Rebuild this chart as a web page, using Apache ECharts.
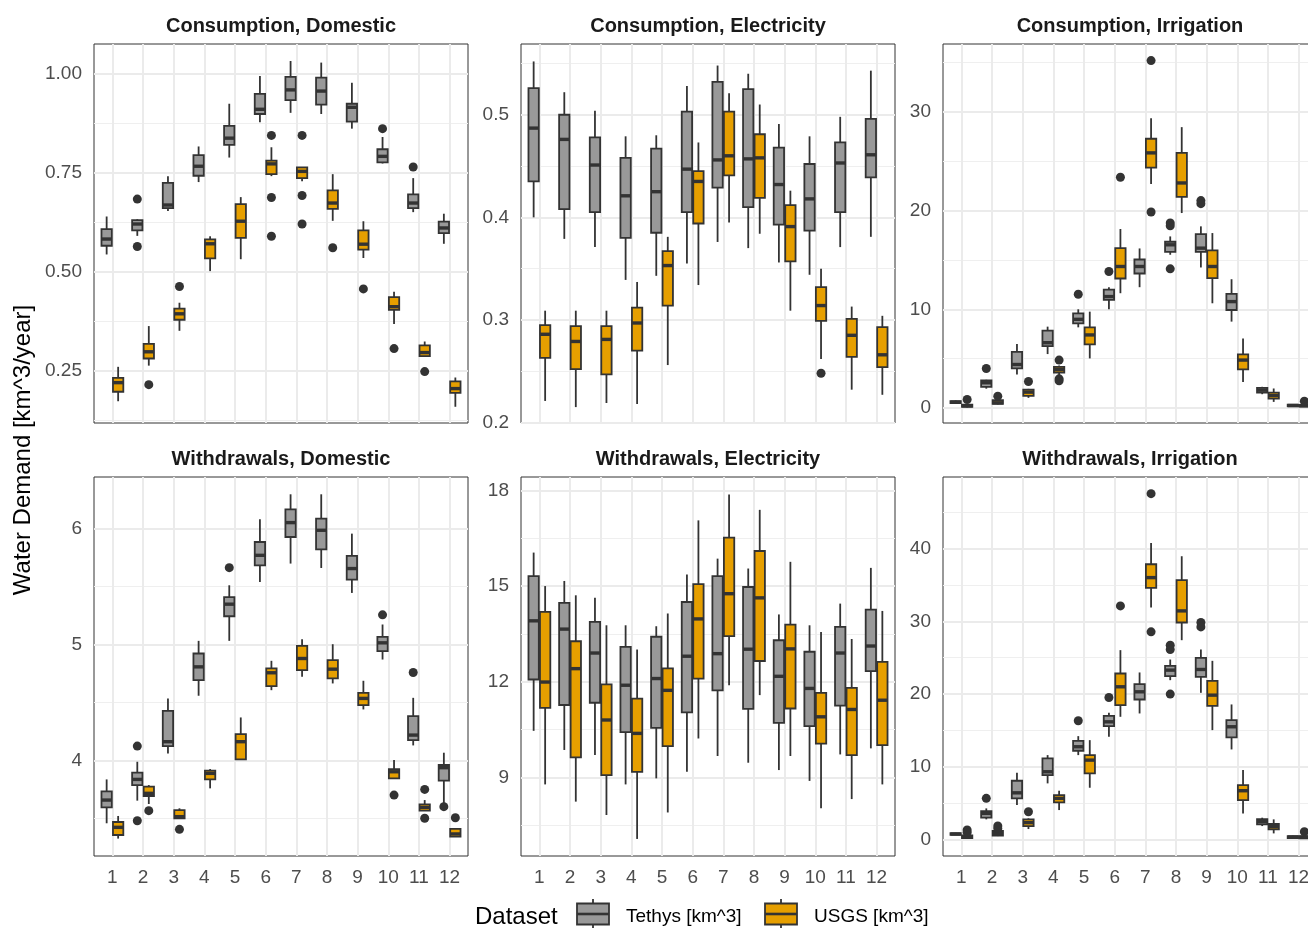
<!DOCTYPE html>
<html>
<head>
<meta charset="utf-8">
<title>Water demand by month</title>
<script src="https://cdn.jsdelivr.net/npm/echarts@6/dist/echarts.min.js"></script>
<style>
  html, body { margin: 0; padding: 0; background: #ffffff; }
  #chart { width: 1308px; height: 928px; }
</style>
</head>
<body>
<div id="chart"></div>
<script>
const months = [1, 2, 3, 4, 5, 6, 7, 8, 9, 10, 11, 12]

// every box: [lower whisker, Q1, median, Q3, upper whisker]
// outliers: [month, value]

// Consumption, Domestic
const consDomTethys = [
  [0.543, 0.565, 0.582, 0.607, 0.639], [0.590, 0.604, 0.620, 0.630, 0.632],
  [0.653, 0.660, 0.668, 0.724, 0.741], [0.726, 0.742, 0.766, 0.794, 0.816],
  [0.788, 0.820, 0.837, 0.868, 0.924], [0.877, 0.898, 0.910, 0.949, 0.994],
  [0.901, 0.933, 0.959, 0.992, 1.032], [0.898, 0.922, 0.956, 0.990, 1.028],
  [0.861, 0.879, 0.915, 0.924, 0.977], [0.773, 0.776, 0.791, 0.809, 0.840],
  [0.650, 0.660, 0.673, 0.695, 0.736], [0.570, 0.597, 0.610, 0.626, 0.646],
]
const consDomUsgs = [
  [0.172, 0.196, 0.219, 0.231, 0.259], [0.262, 0.280, 0.297, 0.317, 0.362],
  [0.350, 0.378, 0.393, 0.406, 0.421], [0.501, 0.533, 0.570, 0.581, 0.589],
  [0.531, 0.585, 0.627, 0.670, 0.688], [0.741, 0.746, 0.772, 0.780, 0.814],
  [0.728, 0.736, 0.753, 0.763, 0.763], [0.628, 0.658, 0.673, 0.705, 0.746],
  [0.534, 0.555, 0.569, 0.604, 0.627], [0.367, 0.403, 0.411, 0.435, 0.449],
  [0.286, 0.286, 0.295, 0.313, 0.323], [0.158, 0.193, 0.204, 0.222, 0.232],
]
const consDomTethysOut = [[2, 0.683], [2, 0.563], [10, 0.861], [11, 0.764]]
const consDomUsgsOut = [
  [2, 0.214], [3, 0.462], [6, 0.844], [6, 0.687], [6, 0.589], [7, 0.844], [7, 0.692],
  [7, 0.620], [8, 0.560], [9, 0.456], [10, 0.305], [11, 0.247],
]

// Consumption, Electricity
const consElecTethys = [
  [0.400, 0.435, 0.487, 0.526, 0.552], [0.379, 0.408, 0.476, 0.500, 0.522],
  [0.371, 0.405, 0.451, 0.478, 0.504], [0.339, 0.380, 0.421, 0.458, 0.479],
  [0.343, 0.385, 0.425, 0.467, 0.480], [0.355, 0.405, 0.447, 0.503, 0.528],
  [0.376, 0.429, 0.456, 0.532, 0.548], [0.370, 0.410, 0.457, 0.525, 0.540],
  [0.356, 0.393, 0.432, 0.468, 0.491], [0.344, 0.387, 0.418, 0.452, 0.479],
  [0.371, 0.405, 0.453, 0.473, 0.498], [0.381, 0.439, 0.461, 0.496, 0.543],
]
const consElecUsgs = [
  [0.221, 0.263, 0.286, 0.295, 0.309], [0.215, 0.252, 0.279, 0.294, 0.309],
  [0.219, 0.247, 0.281, 0.294, 0.309], [0.218, 0.270, 0.297, 0.312, 0.337],
  [0.256, 0.314, 0.353, 0.367, 0.381], [0.334, 0.394, 0.435, 0.445, 0.473],
  [0.395, 0.441, 0.460, 0.503, 0.521], [0.384, 0.419, 0.458, 0.481, 0.510],
  [0.309, 0.357, 0.391, 0.412, 0.426], [0.262, 0.299, 0.314, 0.332, 0.350],
  [0.232, 0.264, 0.285, 0.301, 0.313], [0.227, 0.254, 0.266, 0.293, 0.304],
]
const consElecTethysOut = []
const consElecUsgsOut = [[10, 0.248]]

// Consumption, Irrigation
const consIrrTethys = [
  [0.40, 0.48, 0.58, 0.68, 0.75], [1.95, 2.14, 2.55, 2.78, 2.85],
  [3.39, 4.00, 4.40, 5.69, 6.47], [5.46, 6.27, 6.61, 7.83, 8.24],
  [8.17, 8.58, 8.98, 9.59, 10.00], [10.00, 10.95, 11.29, 12.00, 12.24],
  [12.24, 13.63, 14.34, 15.05, 16.17], [15.53, 15.83, 16.54, 16.85, 17.39],
  [14.24, 15.83, 16.20, 17.63, 18.41], [8.75, 9.93, 10.78, 11.56, 13.05],
  [1.39, 1.56, 1.80, 2.03, 2.14], [0.14, 0.17, 0.24, 0.33, 0.37],
]
const consIrrUsgs = [
  [0.05, 0.12, 0.22, 0.32, 0.40], [0.35, 0.40, 0.52, 0.78, 0.85],
  [1.02, 1.22, 1.60, 1.85, 1.93], [3.30, 3.59, 3.90, 4.17, 4.30],
  [5.02, 6.44, 7.40, 8.17, 9.76], [11.63, 13.12, 14.34, 16.20, 18.14],
  [22.71, 24.37, 25.86, 27.29, 29.36], [19.76, 21.39, 22.81, 25.86, 28.47],
  [10.61, 13.15, 14.34, 15.97, 17.73], [2.64, 3.90, 4.85, 5.42, 7.05],
  [0.61, 0.95, 1.25, 1.56, 1.97], [0.10, 0.14, 0.22, 0.30, 0.36],
]
const consIrrTethysOut = [
  [2, 4.00], [5, 11.53], [6, 13.83], [8, 18.75], [8, 18.47], [8, 14.10], [9, 21.02], [9, 20.71],
]
const consIrrUsgsOut = [
  [1, 0.85], [2, 1.19], [3, 2.68], [4, 4.85], [4, 2.95], [4, 2.75], [6, 23.39],
  [7, 35.22], [7, 19.86], [12, 0.68],
]

// Withdrawals, Domestic
const withDomTethys = [
  [3.461, 3.598, 3.661, 3.736, 3.839], [3.656, 3.790, 3.839, 3.897, 3.991],
  [4.063, 4.126, 4.164, 4.430, 4.537], [4.560, 4.694, 4.809, 4.924, 5.033],
  [5.033, 5.245, 5.349, 5.409, 5.512], [5.541, 5.684, 5.770, 5.885, 6.080],
  [5.699, 5.928, 6.052, 6.166, 6.296], [5.661, 5.822, 5.986, 6.086, 6.296],
  [5.446, 5.561, 5.656, 5.765, 5.957], [4.872, 4.944, 5.016, 5.067, 5.174],
  [4.132, 4.178, 4.221, 4.385, 4.542], [3.633, 3.828, 3.940, 3.963, 4.069],
]
const withDomUsgs = [
  [3.329, 3.360, 3.426, 3.472, 3.524], [3.627, 3.696, 3.719, 3.776, 3.790],
  [3.504, 3.504, 3.518, 3.575, 3.590], [3.762, 3.839, 3.891, 3.914, 3.928],
  [4.011, 4.011, 4.164, 4.230, 4.373], [4.608, 4.643, 4.758, 4.795, 4.861],
  [4.723, 4.780, 4.881, 4.990, 5.047], [4.666, 4.709, 4.789, 4.867, 5.004],
  [4.442, 4.479, 4.537, 4.585, 4.689], [3.848, 3.848, 3.905, 3.928, 4.006],
  [3.570, 3.570, 3.598, 3.624, 3.661], [3.346, 3.346, 3.369, 3.412, 3.412],
]
const withDomTethysOut = [[2, 4.126], [2, 3.483], [5, 5.664], [10, 5.257], [11, 4.760], [12, 3.604]]
const withDomUsgsOut = [[2, 3.570], [3, 3.409], [10, 3.704], [11, 3.753], [11, 3.504], [12, 3.509]]

// Withdrawals, Electricity
const withElecTethys = [
  [10.46, 12.07, 13.91, 15.31, 16.05], [9.86, 11.27, 13.65, 14.47, 15.16],
  [9.70, 11.34, 12.90, 13.88, 14.63], [8.78, 10.42, 11.89, 13.09, 13.77],
  [8.97, 10.55, 12.10, 13.41, 13.74], [9.18, 11.04, 12.80, 14.50, 15.36],
  [9.67, 11.73, 12.88, 15.31, 15.86], [9.46, 11.15, 13.02, 14.97, 15.55],
  [9.23, 10.71, 12.17, 13.30, 14.11], [8.89, 10.61, 11.79, 12.94, 13.77],
  [9.72, 11.25, 12.90, 13.72, 14.45], [9.91, 12.33, 13.12, 14.26, 15.57],
]
const withElecUsgs = [
  [8.78, 11.18, 11.99, 14.19, 15.00], [8.24, 9.63, 12.41, 13.27, 14.71],
  [7.82, 9.07, 10.80, 11.92, 13.77], [7.07, 9.17, 10.38, 11.47, 13.01],
  [7.90, 9.98, 11.73, 12.42, 14.14], [10.22, 12.10, 13.97, 15.06, 17.06],
  [11.89, 13.43, 14.76, 16.52, 17.87], [11.58, 12.65, 14.63, 16.10, 17.39],
  [9.67, 11.16, 13.03, 13.79, 15.76], [8.03, 10.06, 10.90, 11.65, 13.56],
  [8.32, 9.70, 11.13, 11.81, 13.34], [8.78, 10.01, 11.42, 12.62, 14.22],
]
const withElecTethysOut = []
const withElecUsgsOut = []

// Withdrawals, Irrigation
const withIrrTethys = [
  [0.60, 0.62, 0.73, 0.85, 0.90], [2.75, 2.98, 3.57, 3.89, 4.26],
  [4.72, 5.64, 6.40, 8.06, 9.16], [7.70, 8.84, 9.30, 11.13, 11.59],
  [11.59, 12.19, 12.74, 13.56, 14.20], [14.11, 15.58, 16.17, 17.00, 17.41],
  [17.32, 19.24, 20.30, 21.35, 22.96], [21.90, 22.45, 23.28, 23.87, 24.74],
  [20.16, 22.36, 23.37, 24.97, 26.12], [12.37, 14.02, 15.49, 16.40, 18.56],
  [1.83, 2.06, 2.43, 2.79, 2.98], [0.14, 0.18, 0.32, 0.45, 0.50],
]
const withIrrUsgs = [
  [0.10, 0.18, 0.37, 0.55, 0.60], [0.45, 0.50, 0.82, 1.15, 1.25],
  [1.42, 1.83, 2.30, 2.75, 2.89], [4.03, 5.09, 5.64, 6.09, 6.69],
  [7.10, 9.07, 10.90, 11.59, 13.65], [16.86, 18.47, 20.99, 22.82, 26.03],
  [31.89, 34.59, 36.01, 37.85, 40.78], [27.40, 29.83, 31.43, 35.65, 38.95],
  [15.03, 18.37, 19.84, 21.81, 24.56], [3.57, 5.41, 6.69, 7.47, 9.53],
  [0.82, 1.37, 1.74, 2.11, 2.75], [0.10, 0.14, 0.30, 0.45, 0.52],
]
const withIrrTethysOut = [
  [2, 5.64], [5, 16.31], [6, 19.52], [8, 26.71], [8, 26.12], [8, 19.98], [9, 29.83], [9, 29.23],
]
const withIrrUsgsOut = [
  [1, 1.28], [1, 0.96], [2, 1.83], [2, 1.51], [3, 3.80], [6, 32.12], [7, 47.56], [7, 28.55], [12, 1.05],
]

// panel setup: which arrays go where, plus the y range of each facet
const panels = [
  { title: 'Consumption, Domestic', tethys: consDomTethys, usgs: consDomUsgs,
    tOut: consDomTethysOut, uOut: consDomUsgsOut, min: 0.117, max: 1.075, step: 0.25, digits: 2 },
  { title: 'Consumption, Electricity', tethys: consElecTethys, usgs: consElecUsgs,
    tOut: consElecTethysOut, uOut: consElecUsgsOut, min: 0.1995, max: 0.569, step: 0.1, digits: 1 },
  { title: 'Consumption, Irrigation', tethys: consIrrTethys, usgs: consIrrUsgs,
    tOut: consIrrTethysOut, uOut: consIrrUsgsOut, min: -1.53, max: 36.9, step: 10, digits: 0 },
  { title: 'Withdrawals, Domestic', tethys: withDomTethys, usgs: withDomUsgs,
    tOut: withDomTethysOut, uOut: withDomUsgsOut, min: 3.179, max: 6.445, step: 1, digits: 0 },
  { title: 'Withdrawals, Electricity', tethys: withElecTethys, usgs: withElecUsgs,
    tOut: withElecTethysOut, uOut: withElecUsgsOut, min: 6.535, max: 18.42, step: 3, digits: 0 },
  { title: 'Withdrawals, Irrigation', tethys: withIrrTethys, usgs: withIrrUsgs,
    tOut: withIrrTethysOut, uOut: withIrrUsgsOut, min: -2.29, max: 49.85, step: 10, digits: 0 },
]

const FONT = "'Liberation Sans', Arial, Helvetica, sans-serif"
const GREY = '#999999'
const ORANGE = '#E69F00'
const INK = '#333333'
const BOX_W = 0.3375   // dodged box width, in months
const DODGE = 0.1875   // centre offset of each box

const colLeft = [94, 521, 943]
const rowTop = [44, 477]
const PANEL_W = 374
const PANEL_H = 379

function onStep(v, step) {
  const r = v / step
  return Math.abs(r - Math.round(r)) < 1e-6
}

function boxRenderer(shift, fill) {
  return function (params, api) {
    const x = api.value(0) + shift
    const lo = api.coord([x, api.value(1)])
    const q1 = api.coord([x, api.value(2)])
    const med = api.coord([x, api.value(3)])
    const q3 = api.coord([x, api.value(4)])
    const hi = api.coord([x, api.value(5)])
    const w = api.size([BOX_W, 0])[0]
    const cx = med[0]
    return {
      type: 'group',
      children: [
        { type: 'line', shape: { x1: cx, y1: hi[1], x2: cx, y2: q3[1] },
          style: { stroke: INK, lineWidth: 1.8 } },
        { type: 'line', shape: { x1: cx, y1: q1[1], x2: cx, y2: lo[1] },
          style: { stroke: INK, lineWidth: 1.8 } },
        { type: 'rect', shape: { x: cx - w / 2, y: q3[1], width: w, height: q1[1] - q3[1] },
          style: { fill: fill, stroke: INK, lineWidth: 1.8 } },
        { type: 'line', shape: { x1: cx - w / 2, y1: med[1], x2: cx + w / 2, y2: med[1] },
          style: { stroke: INK, lineWidth: 3.4 } },
      ],
    }
  }
}

const grid = []
const xAxis = []
const yAxis = []
const series = []
const graphic = []

panels.forEach((p, i) => {
  const col = i % 3
  const row = Math.floor(i / 3)
  grid.push({
    left: colLeft[col], top: rowTop[row], width: PANEL_W, height: PANEL_H,
    outerBoundsMode: 'none', containLabel: false,
    show: true, borderColor: INK, borderWidth: 1, backgroundColor: 'transparent',
  })
  xAxis.push({
    gridIndex: i, type: 'value', min: 0.4, max: 12.6,
    minInterval: 1, maxInterval: 1, splitNumber: 12,
    axisLine: { show: false }, axisTick: { show: false },
    axisLabel: {
      show: row === 1, color: '#4d4d4d', fontSize: 19, fontFamily: FONT, margin: 12,
      formatter: (v) => (onStep(v, 1) ? String(Math.round(v)) : ''),
    },
    splitLine: { show: true, showMinLine: false, showMaxLine: false,
      lineStyle: { color: '#ebebeb', width: 2 } },
  })
  yAxis.push({
    gridIndex: i, type: 'value', min: p.min, max: p.max,
    minInterval: p.step, maxInterval: p.step,
    axisLine: { show: false }, axisTick: { show: false },
    axisLabel: {
      color: '#4d4d4d', fontSize: 19, fontFamily: FONT, margin: 12, padding: [4, 0, 0, 0],
      formatter: (v) => (onStep(v, p.step) ? v.toFixed(p.digits) : ''),
    },
    splitLine: { show: true, showMinLine: false, showMaxLine: false,
      lineStyle: { color: '#ebebeb', width: 2 } },
    minorTick: { show: false, splitNumber: 2 },
    minorSplitLine: { show: true, lineStyle: { color: '#efefef', width: 1 } },
  })

  series.push({
    name: 'Tethys [km^3]', type: 'custom', xAxisIndex: i, yAxisIndex: i,
    renderItem: boxRenderer(-DODGE, GREY),
    encode: { x: 0, y: [1, 2, 3, 4, 5] },
    data: months.map((m, k) => [m].concat(p.tethys[k])),
    z: 2,
  })
  series.push({
    name: 'USGS [km^3]', type: 'custom', xAxisIndex: i, yAxisIndex: i,
    renderItem: boxRenderer(DODGE, ORANGE),
    encode: { x: 0, y: [1, 2, 3, 4, 5] },
    data: months.map((m, k) => [m].concat(p.usgs[k])),
    z: 2,
  })
  series.push({
    name: 'outliers', type: 'scatter', xAxisIndex: i, yAxisIndex: i,
    symbol: 'circle', symbolSize: 9, itemStyle: { color: INK, opacity: 1 },
    data: p.tOut.map((d) => [d[0] - DODGE, d[1]])
      .concat(p.uOut.map((d) => [d[0] + DODGE, d[1]])),
    z: 3,
  })

  // facet strip title
  graphic.push({
    type: 'text', x: colLeft[col] + PANEL_W / 2, y: rowTop[row] - 18,
    style: { text: p.title, fill: '#1a1a1a', font: `bold 20px ${FONT}`,
      textAlign: 'center', textVerticalAlign: 'middle' },
  })
})

// shared y title
graphic.push({
  type: 'text', x: 23, y: 450, rotation: Math.PI / 2,
  style: { text: 'Water Demand [km^3/year]', fill: '#000000', font: `24px ${FONT}`,
    textAlign: 'center', textVerticalAlign: 'middle' },
})

// legend drawn by hand so the keys look like the box glyphs
function legendKey(x, fill) {
  return {
    type: 'group', x: x, y: 914,
    children: [
      { type: 'line', shape: { x1: 16, y1: -15, x2: 16, y2: 15 }, style: { stroke: INK, lineWidth: 1.8 } },
      { type: 'rect', shape: { x: 0, y: -10.5, width: 32, height: 21 },
        style: { fill: fill, stroke: INK, lineWidth: 1.8 } },
      { type: 'line', shape: { x1: 0, y1: 0, x2: 32, y2: 0 }, style: { stroke: INK, lineWidth: 2.6 } },
    ],
  }
}
graphic.push({
  type: 'text', x: 475, y: 917,
  style: { text: 'Dataset', fill: '#000000', font: `24px ${FONT}`, textVerticalAlign: 'middle' },
})
graphic.push(legendKey(577, GREY))
graphic.push({
  type: 'text', x: 626, y: 917,
  style: { text: 'Tethys [km^3]', fill: '#000000', font: `19px ${FONT}`, textVerticalAlign: 'middle' },
})
graphic.push(legendKey(765, ORANGE))
graphic.push({
  type: 'text', x: 814, y: 917,
  style: { text: 'USGS [km^3]', fill: '#000000', font: `19px ${FONT}`, textVerticalAlign: 'middle' },
})

const chart = echarts.init(document.getElementById('chart'))
chart.setOption({
  backgroundColor: '#ffffff',
  animation: false,
  textStyle: { fontFamily: FONT },
  grid,
  xAxis,
  yAxis,
  series,
  graphic,
})
</script>
</body>
</html>
